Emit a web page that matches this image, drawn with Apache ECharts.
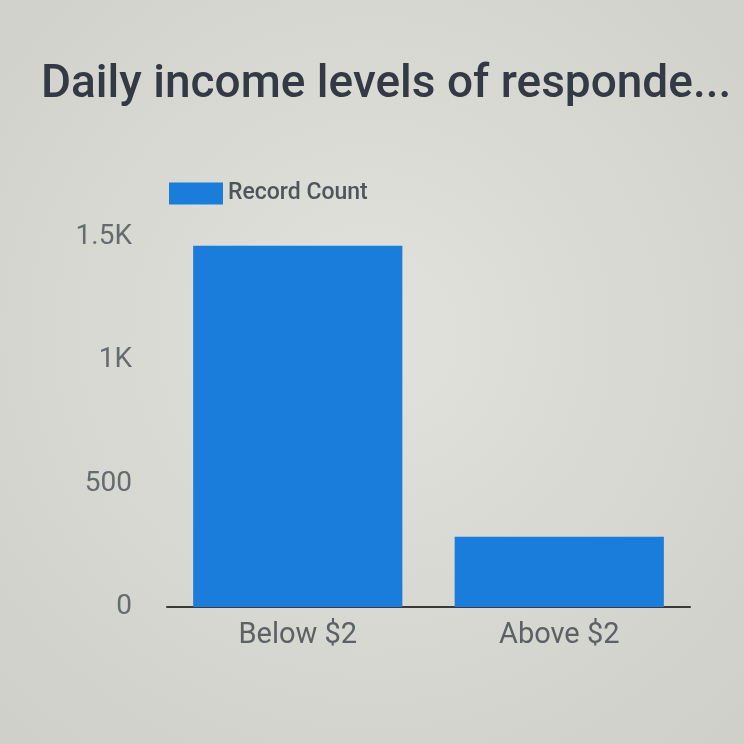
<!DOCTYPE html>
<html>
<head>
<meta charset="utf-8">
<script src="https://cdn.jsdelivr.net/npm/echarts@6/dist/echarts.min.js"></script>
<style>
  html, body { margin: 0; padding: 0; background: #d9d9d3; }
  #chart { width: 744px; height: 744px; }
</style>
</head>
<body>
<div id="chart"></div>
<script>
// Survey responses grouped by daily income
const categories = ['Below $2', 'Above $2'];
const recordCount = [1465, 285];
const yTicks = [0, 500, 1000, 1500];
const seriesName = 'Record Count';
const titleText = 'Daily income levels of responde...';

const chart = echarts.init(document.getElementById('chart'));
chart.setOption({
  backgroundColor: {
    type: 'radial', x: 0.5, y: 0.45, r: 0.75,
    colorStops: [
      { offset: 0, color: '#e2e2dc' },
      { offset: 1, color: '#cfcfc9' }
    ]
  },
  animation: false,
  title: {
    text: titleText,
    left: 36,
    top: 57,
    textStyle: {
      fontFamily: 'Roboto',
      fontWeight: 500,
      fontSize: 46,
      color: '#333a46'
    }
  },
  legend: {
    data: [seriesName],
    left: 164,
    top: 177,
    itemWidth: 54,
    itemHeight: 22,
    itemGap: 10,
    icon: 'rect',
    textStyle: {
      fontFamily: 'Roboto',
      fontWeight: 500,
      fontSize: 23,
      color: '#50555b'
    }
  },
  grid: {
    left: 167,
    right: 54,
    top: 237,
    bottom: 137,
    containLabel: false
  },
  xAxis: {
    type: 'category',
    data: categories,
    axisTick: { show: false },
    axisLine: { lineStyle: { color: '#3a3a3a', width: 2 } },
    axisLabel: {
      fontFamily: 'Roboto',
      fontSize: 29,
      color: '#5c6166',
      margin: 14
    }
  },
  yAxis: {
    type: 'value',
    min: yTicks[0],
    max: yTicks[yTicks.length - 1],
    interval: yTicks[1] - yTicks[0],
    splitLine: { show: false },
    axisLine: { show: false },
    axisTick: { show: false },
    axisLabel: {
      fontFamily: 'Roboto',
      fontSize: 28,
      color: '#666b70',
      margin: 35,
      formatter: function (v) {
        return v >= 1000 ? (v / 1000) + 'K' : String(v);
      }
    }
  },
  series: [{
    name: seriesName,
    type: 'bar',
    data: recordCount,
    barWidth: '80%',
    itemStyle: { color: '#1a7ddb' }
  }]
});
</script>
</body>
</html>
